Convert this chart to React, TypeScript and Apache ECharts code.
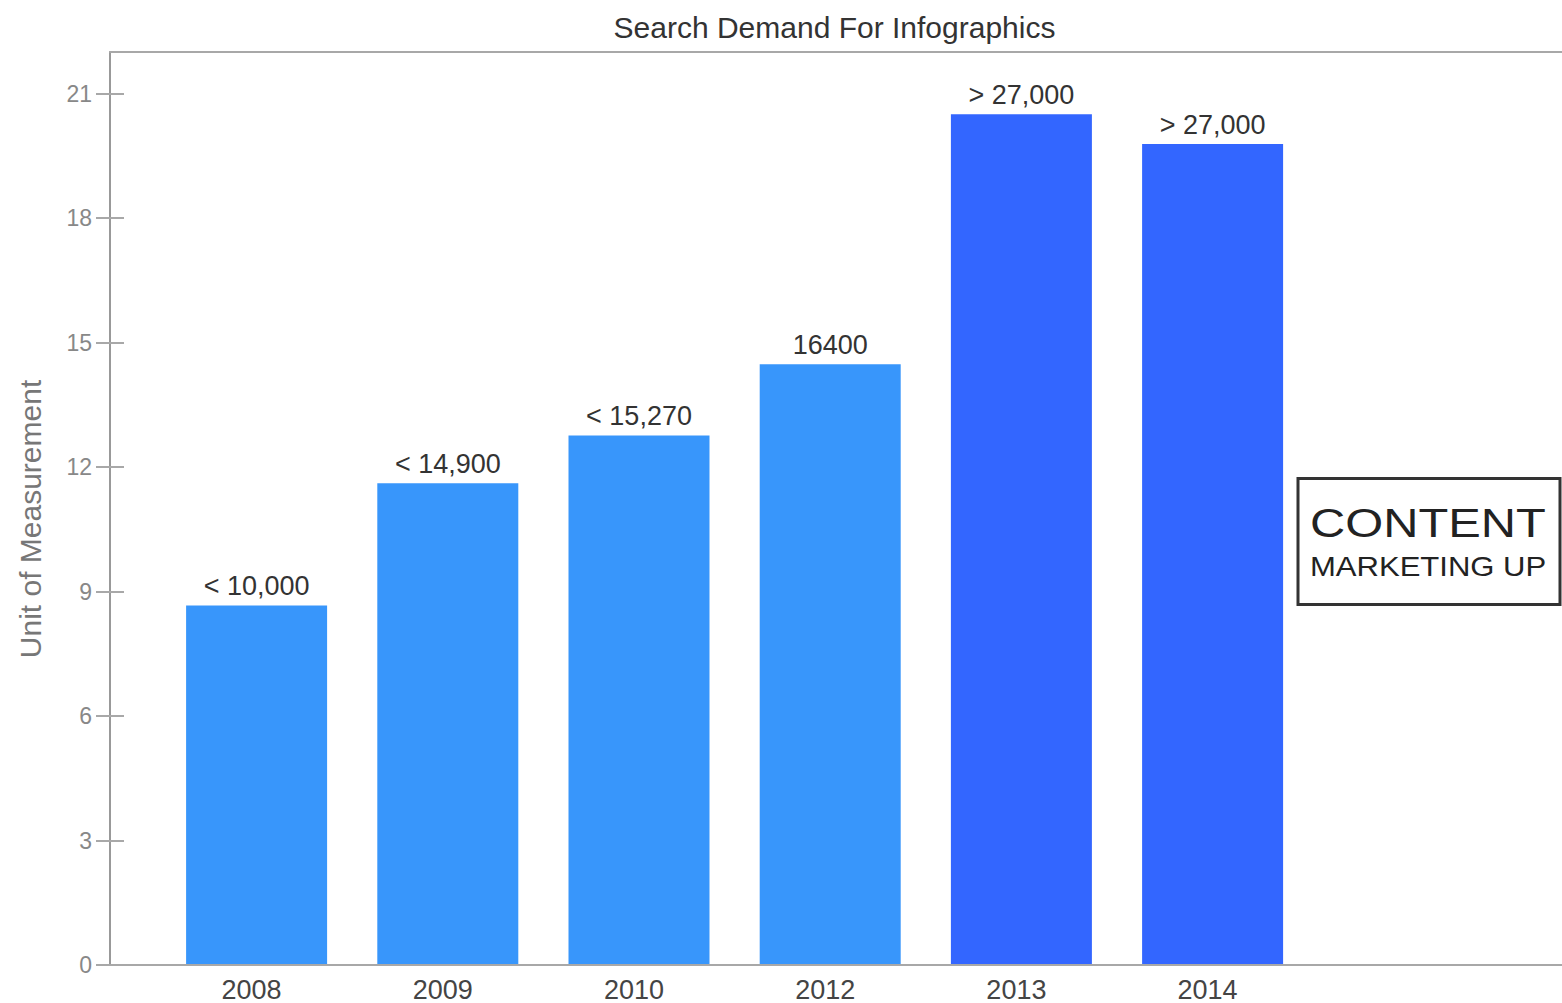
import React, { useEffect, useRef } from "react";
import * as echarts from "echarts";

const titleText = "Search Demand For Infographics";
const yAxisName = "Unit of Measurement";
const categories = ["2008", "2009", "2010", "2012", "2013", "2014", ""];
const values = [8.65, 11.6, 12.75, 14.47, 20.5, 19.78, null];
const valueLabels = ["< 10,000", "< 14,900", "< 15,270", "16400", "> 27,000", "> 27,000", ""];
const yTicks = [0, 3, 6, 9, 12, 15, 18, 21];
const badgeLine1 = "CONTENT";
const badgeLine2 = "MARKETING UP";

const FONT = "'Liberation Sans', Arial, Helvetica, sans-serif";
const LIGHT = "#3896fb";
const DARK = "#3366ff";
const AXIS = "#a8a8a8";

export default function App() {
  const ref = useRef<HTMLDivElement>(null);
  useEffect(() => {
    if (!ref.current) return;
    const chart = echarts.init(ref.current, null, { renderer: "svg" });
    const option: any = {
      animation: false,
      backgroundColor: "#ffffff",
      grid: [
        { left: 110, right: 0, top: 52, bottom: 38, containLabel: false },
        { left: 161, width: 1338.4, top: 52, bottom: 38, containLabel: false },
      ],
      xAxis: [
        {
          type: "value", gridIndex: 0, min: 0, max: 1, position: "bottom",
          axisLine: { show: true, onZero: false, lineStyle: { color: AXIS, width: 2 } },
          axisTick: { show: false }, axisLabel: { show: false }, splitLine: { show: false },
        },
        {
          type: "value", gridIndex: 0, min: 0, max: 1, position: "top",
          axisLine: { show: true, onZero: false, lineStyle: { color: AXIS, width: 2 } },
          axisTick: { show: false }, axisLabel: { show: false }, splitLine: { show: false },
        },
        {
          type: "category", gridIndex: 1, data: categories,
          axisLine: { show: false }, axisTick: { show: false }, splitLine: { show: false },
          axisLabel: {
            show: true, margin: 12, fontSize: 27, color: "#444", fontFamily: FONT, interval: 0,
            padding: [0, 10, 0, 0],
          },
        },
      ],
      yAxis: [
        {
          type: "value", gridIndex: 0, min: 0, max: 22, position: "left",
          axisLine: { show: true, onZero: false, lineStyle: { color: "#999", width: 2 } },
          axisTick: { show: true, inside: false, length: 14, customValues: yTicks, lineStyle: { color: AXIS, width: 2 } },
          axisLabel: { show: true, customValues: yTicks, margin: 18, fontSize: 23, color: "#888", fontFamily: FONT },
          splitLine: { show: false },
        },
        {
          type: "value", gridIndex: 0, min: 0, max: 22, position: "left",
          axisLine: { show: false, onZero: false },
          axisTick: { show: true, inside: true, length: 14, customValues: yTicks, lineStyle: { color: AXIS, width: 2 } },
          axisLabel: { show: false }, splitLine: { show: false },
        },
        {
          type: "value", gridIndex: 1, min: 0, max: 22,
          axisLine: { show: false }, axisTick: { show: false }, axisLabel: { show: false }, splitLine: { show: false },
        },
      ],
      series: [
        {
          type: "bar", xAxisIndex: 2, yAxisIndex: 2, barWidth: 141,
          data: values.map((v, i) => ({ value: v, itemStyle: { color: i >= 4 ? DARK : LIGHT } })),
          label: {
            show: true, position: "top", distance: 6, fontSize: 27, color: "#333", fontFamily: FONT,
            formatter: (p: any) => valueLabels[p.dataIndex],
          },
        },
      ],
      graphic: [
        {
          type: "text", x: 834.5, y: 27,
          style: { text: titleText, font: `30px ${FONT}`, fill: "#333", align: "center", verticalAlign: "middle" },
        },
        {
          type: "text", x: 30, y: 519, rotation: Math.PI / 2,
          style: { text: yAxisName, font: `30px ${FONT}`, fill: "#777", align: "center", verticalAlign: "middle" },
        },
        {
          type: "rect", shape: { x: 1298, y: 478.5, width: 262, height: 126 },
          style: { fill: "#fff", stroke: "#333", lineWidth: 3 },
        },
        {
          type: "text", x: 1310, y: 523, scaleX: 1.22,
          style: { text: badgeLine1, font: `40px ${FONT}`, fill: "#222", align: "left", verticalAlign: "middle" },
        },
        {
          type: "text", x: 1310, y: 567, scaleX: 1.15,
          style: { text: badgeLine2, font: `27px ${FONT}`, fill: "#222", align: "left", verticalAlign: "middle" },
        },
      ],
    };
    chart.setOption(option);
    return () => chart.dispose();
  }, []);
  return (
    <div
      ref={ref}
      style={{ position: "absolute", left: 0, top: 0, width: 1562, height: 1003, background: "#fff" }}
    />
  );
}
